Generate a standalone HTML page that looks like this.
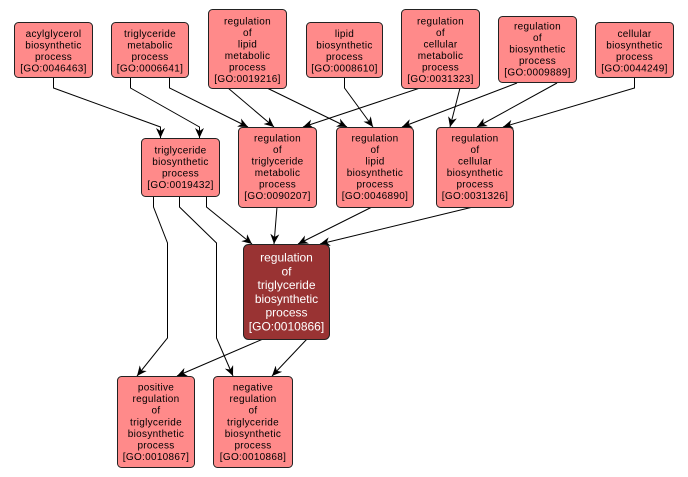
<!DOCTYPE html>
<html><head><meta charset="utf-8"><style>
html,body{margin:0;padding:0;background:#fff;}
svg{display:block;}
.b{fill:#FF8A8A;stroke:#222;stroke-width:1;}
.d{fill:#993333;stroke:#222;stroke-width:1;}
.t{font-family:"Liberation Sans",Arial,sans-serif;font-size:10px;letter-spacing:0.3px;fill:#000;text-anchor:middle;}
.w{font-family:"Liberation Sans",Arial,sans-serif;font-size:12px;fill:#fff;text-anchor:middle;}
.e{fill:none;stroke:#000;stroke-width:1;marker-end:url(#a);}
</style></head><body>
<svg width="688" height="477" viewBox="0 0 688 477" xmlns="http://www.w3.org/2000/svg">
<defs>
<marker id="a" markerUnits="userSpaceOnUse" markerWidth="11" markerHeight="9" refX="10" refY="4.5" orient="auto">
<path d="M0,0 L10,4.5 L0,9 L3,4.5 z" fill="#000"/>
</marker>
</defs>
<!-- edges -->
<polyline class="e" points="53.5,77 53.5,88 160.5,127 160.5,138"/>
<polyline class="e" points="130.5,77 130.5,88 199.5,127 199.5,138"/>
<polyline class="e" points="169.5,77 169.5,88 248,127"/>
<polyline class="e" points="228,88 274,127"/>
<polyline class="e" points="267,88 347,127"/>
<polyline class="e" points="344.5,77 344.5,88 373,127"/>
<polyline class="e" points="420,88 303,127"/>
<polyline class="e" points="460,88 450,127"/>
<polyline class="e" points="517,83 402,127"/>
<polyline class="e" points="557,83 477,127"/>
<polyline class="e" points="634.5,77 634.5,88 503,127"/>
<polyline class="e" points="206.5,196 206.5,207 252,244"/>
<polyline class="e" points="179.5,196 179.5,207 216.5,243 216.5,338 233,376"/>
<polyline class="e" points="153.5,196 153.5,207 167.5,243 167.5,338 137,376"/>
<polyline class="e" points="277,207 274,244"/>
<polyline class="e" points="372,207 298,244"/>
<polyline class="e" points="473,207 320,244"/>
<polyline class="e" points="263,339 177,376"/>
<polyline class="e" points="307,339 272,376"/>

<!-- nodes -->
<rect class="b" x="14.5" y="22.5" width="78" height="55" rx="4"/>
<text class="t"><tspan x="53.5" y="37">acylglycerol</tspan><tspan x="53.5" y="48.5">biosynthetic</tspan><tspan x="53.5" y="60">process</tspan><tspan x="53.5" y="71.5">[GO:0046463]</tspan></text>

<rect class="b" x="111.5" y="22.5" width="77" height="55" rx="4"/>
<text class="t"><tspan x="150" y="37">triglyceride</tspan><tspan x="150" y="48.5">metabolic</tspan><tspan x="150" y="60">process</tspan><tspan x="150" y="71.5">[GO:0006641]</tspan></text>

<rect class="b" x="208.5" y="9.5" width="78" height="79" rx="4"/>
<text class="t"><tspan x="247.5" y="24.5">regulation</tspan><tspan x="247.5" y="36">of</tspan><tspan x="247.5" y="47.5">lipid</tspan><tspan x="247.5" y="59">metabolic</tspan><tspan x="247.5" y="70.5">process</tspan><tspan x="247.5" y="82">[GO:0019216]</tspan></text>

<rect class="b" x="306.5" y="22.5" width="76" height="55" rx="4"/>
<text class="t"><tspan x="344.5" y="37">lipid</tspan><tspan x="344.5" y="48.5">biosynthetic</tspan><tspan x="344.5" y="60">process</tspan><tspan x="344.5" y="71.5">[GO:0008610]</tspan></text>

<rect class="b" x="401.5" y="9.5" width="78" height="79" rx="4"/>
<text class="t"><tspan x="440.5" y="24.5">regulation</tspan><tspan x="440.5" y="36">of</tspan><tspan x="440.5" y="47.5">cellular</tspan><tspan x="440.5" y="59">metabolic</tspan><tspan x="440.5" y="70.5">process</tspan><tspan x="440.5" y="82">[GO:0031323]</tspan></text>

<rect class="b" x="498.5" y="16.5" width="78" height="66" rx="4"/>
<text class="t"><tspan x="537.5" y="29.5">regulation</tspan><tspan x="537.5" y="41">of</tspan><tspan x="537.5" y="52.5">biosynthetic</tspan><tspan x="537.5" y="64">process</tspan><tspan x="537.5" y="75.5">[GO:0009889]</tspan></text>

<rect class="b" x="595.5" y="22.5" width="78" height="55" rx="4"/>
<text class="t"><tspan x="634.5" y="37">cellular</tspan><tspan x="634.5" y="48.5">biosynthetic</tspan><tspan x="634.5" y="60">process</tspan><tspan x="634.5" y="71.5">[GO:0044249]</tspan></text>

<rect class="b" x="141.5" y="138.5" width="78" height="58" rx="4"/>
<text class="t"><tspan x="180.5" y="153.5">triglyceride</tspan><tspan x="180.5" y="165">biosynthetic</tspan><tspan x="180.5" y="176.5">process</tspan><tspan x="180.5" y="188">[GO:0019432]</tspan></text>

<rect class="b" x="238.5" y="127.5" width="78" height="80" rx="4"/>
<text class="t"><tspan x="277.5" y="141.5">regulation</tspan><tspan x="277.5" y="153">of</tspan><tspan x="277.5" y="164.5">triglyceride</tspan><tspan x="277.5" y="176">metabolic</tspan><tspan x="277.5" y="187.5">process</tspan><tspan x="277.5" y="199">[GO:0090207]</tspan></text>

<rect class="b" x="336.5" y="127.5" width="77" height="80" rx="4"/>
<text class="t"><tspan x="375" y="141.5">regulation</tspan><tspan x="375" y="153">of</tspan><tspan x="375" y="164.5">lipid</tspan><tspan x="375" y="176">biosynthetic</tspan><tspan x="375" y="187.5">process</tspan><tspan x="375" y="199">[GO:0046890]</tspan></text>

<rect class="b" x="436.5" y="127.5" width="77" height="80" rx="4"/>
<text class="t"><tspan x="475" y="141.5">regulation</tspan><tspan x="475" y="153">of</tspan><tspan x="475" y="164.5">cellular</tspan><tspan x="475" y="176">biosynthetic</tspan><tspan x="475" y="187.5">process</tspan><tspan x="475" y="199">[GO:0031326]</tspan></text>

<rect class="d" x="243.5" y="244.5" width="86" height="95" rx="5"/>
<text class="w"><tspan x="286.5" y="261.5">regulation</tspan><tspan x="286.5" y="275.3">of</tspan><tspan x="286.5" y="289.1">triglyceride</tspan><tspan x="286.5" y="302.9">biosynthetic</tspan><tspan x="286.5" y="316.7">process</tspan><tspan x="286.5" y="330.5">[GO:0010866]</tspan></text>

<rect class="b" x="117.5" y="376.5" width="77" height="91" rx="4"/>
<text class="t"><tspan x="156" y="390.5">positive</tspan><tspan x="156" y="402.1">regulation</tspan><tspan x="156" y="413.7">of</tspan><tspan x="156" y="425.3">triglyceride</tspan><tspan x="156" y="436.9">biosynthetic</tspan><tspan x="156" y="448.5">process</tspan><tspan x="156" y="460.1">[GO:0010867]</tspan></text>

<rect class="b" x="213.5" y="376.5" width="79" height="91" rx="4"/>
<text class="t"><tspan x="253" y="390.5">negative</tspan><tspan x="253" y="402.1">regulation</tspan><tspan x="253" y="413.7">of</tspan><tspan x="253" y="425.3">triglyceride</tspan><tspan x="253" y="436.9">biosynthetic</tspan><tspan x="253" y="448.5">process</tspan><tspan x="253" y="460.1">[GO:0010868]</tspan></text>
</svg>
</body></html>
